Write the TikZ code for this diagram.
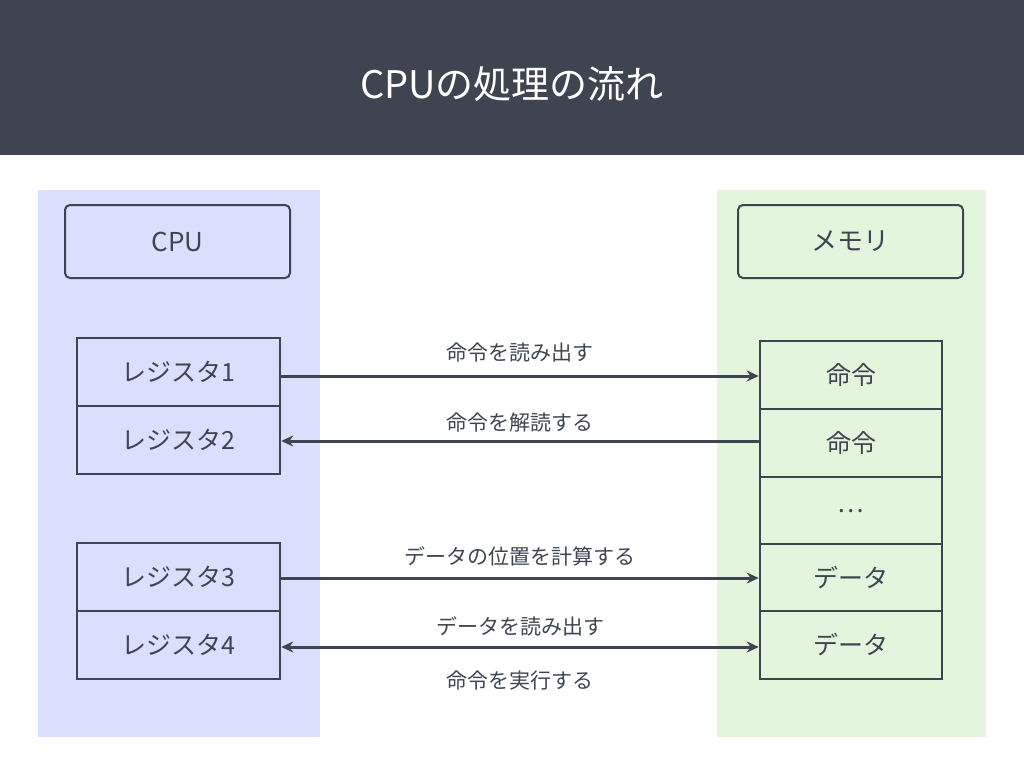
\documentclass[tikz,border=0pt]{standalone}
\usepackage{fontspec}
\setmainfont{Noto Sans CJK JP}
\usetikzlibrary{arrows.meta}
\definecolor{dark}{HTML}{3F4550}
\definecolor{cpubg}{HTML}{D9DFFD}
\definecolor{membg}{HTML}{E3F5DC}
\tikzset{
 cell/.style={draw=dark,line width=2.5pt,minimum width=#1,minimum height=68pt,inner sep=0pt,font=\fontsize{25}{25}\selectfont,text=dark},
 lbl/.style={draw=dark,line width=2pt,rounded corners=5pt,minimum width=225pt,minimum height=73pt,font=\fontsize{26}{26}\selectfont,text=dark},
 arr/.style={dark,line width=3pt,-{Stealth[length=12pt,width=11pt]}},
 atext/.style={font=\fontsize{21}{21}\selectfont,text=dark}
}
\begin{document}
\begin{tikzpicture}[x=1pt,y=-1pt]
\useasboundingbox (0,0) rectangle (1024,768);
\fill[dark] (0,0) rectangle (1024,155);
\node[text=white,font=\fontsize{38}{38}\selectfont] (title) at (512,84) {CPUの処理の流れ};
\fill[cpubg] (38,190) rectangle (320,737);
\fill[membg] (717,190) rectangle (986,737);
\node[lbl,fill=cpubg] (cpu) at (177.5,241.5) {CPU};
\node[lbl,fill=membg] (mem) at (850.5,241.5) {メモリ};
\foreach \n/\t/\y in {r1/レジスタ1/372,r2/レジスタ2/440,r3/レジスタ3/577,r4/レジスタ4/645}
  \node[cell=203pt,fill=cpubg] (\n) at (178.5,\y) {\t};
\foreach \n/\t/\y in {m1/命令/375,m2/命令/443,m3/…/511,m4/データ/578,m5/データ/645}
  \node[cell=182pt,fill=membg] (\n) at (851,\y) {\t};
\draw[arr] (r1.east|-0,376) -- (m1.west|-0,376);
\draw[arr] (m2.west|-0,441) -- (r2.east|-0,441);
\draw[arr] (r3.east|-0,578) -- (m4.west|-0,578);
\draw[arr,{Stealth[length=12pt,width=11pt]}-{Stealth[length=12pt,width=11pt]}] (r4.east|-0,647) -- (m5.west|-0,647);
\node[atext] (t1) at (520,353) {命令を読み出す};
\node[atext] (t2) at (520,423) {命令を解読する};
\node[atext] (t3) at (520,556) {データの位置を計算する};
\node[atext] (t4) at (520,626) {データを読み出す};
\node[atext] (t5) at (520,681) {命令を実行する};
\end{tikzpicture}
\end{document}
